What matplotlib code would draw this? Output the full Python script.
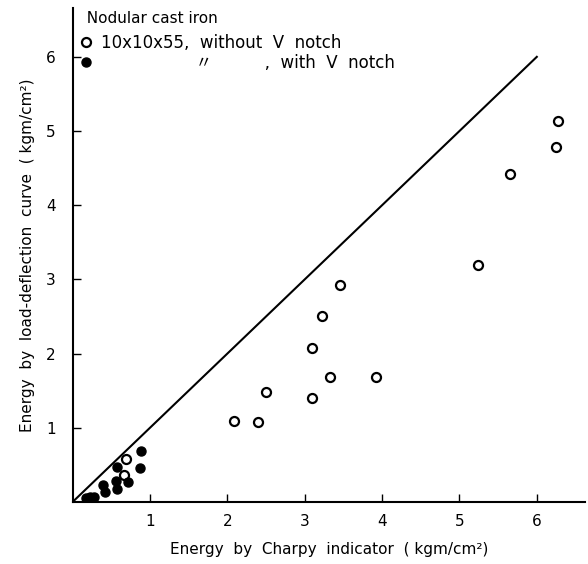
import numpy as np
import matplotlib.pyplot as plt

# nodular cast iron, energy (kgm/cm^2)
plain_charpy = [0.67, 0.69, 2.08, 2.40, 2.50, 3.10, 3.10, 3.22, 3.33, 3.45,
                3.92, 5.24, 5.65, 6.25, 6.27]
plain_load = [0.37, 0.58, 1.09, 1.08, 1.48, 1.40, 2.08, 2.51, 1.69, 2.93,
              1.68, 3.20, 4.42, 4.79, 5.14]

notch_charpy = [0.17, 0.22, 0.27, 0.39, 0.42, 0.56, 0.58, 0.58, 0.72, 0.87, 0.88]
notch_load = [0.05, 0.07, 0.07, 0.23, 0.14, 0.28, 0.18, 0.47, 0.27, 0.46, 0.69]

equal_line = [0, 6]
ticks = [1, 2, 3, 4, 5, 6]

fig = plt.figure(figsize=(5.88, 5.64), dpi=100)
ax = fig.add_axes([0.1235, 0.11, 0.871, 0.876])

ax.plot(equal_line, equal_line, color='black', linewidth=1.5)
ax.plot(plain_charpy, plain_load, 'o', mfc='white', mec='black',
        ms=6.5, mew=1.6, label='10x10x55,  without  V  notch')
ax.plot(notch_charpy, notch_load, 'o', mfc='black', mec='black',
        ms=6.5, mew=1.0, label='                  \u3003          ,  with  V  notch')

ax.set_xlim(0, 6.62)
ax.set_ylim(0, 6.66)
ax.set_xticks(ticks)
ax.set_yticks(ticks)
ax.tick_params(direction='in', length=6, width=1, labelsize=11)
ax.tick_params(axis='x', pad=9)
ax.tick_params(axis='y', pad=12)
for s in ['top', 'right']:
    ax.spines[s].set_visible(False)
for s in ['left', 'bottom']:
    ax.spines[s].set_linewidth(1.5)

ax.set_xlabel('Energy  by  Charpy  indicator  ( kgm/cm\u00b2)', fontsize=11, labelpad=9)
ax.set_ylabel('Energy  by  load-deflection  curve  ( kgm/cm\u00b2)', fontsize=11, labelpad=8)

leg = ax.legend(loc='upper left', bbox_to_anchor=(-0.02, 1.025), frameon=False,
                title='  Nodular cast iron', title_fontsize=11,
                handletextpad=0.4, handlelength=1.0, labelspacing=0.1,
                prop={'family': ['DejaVu Sans', 'Noto Sans CJK JP'], 'size': 12})
leg._legend_box.align = 'left'
leg._legend_box.sep = 6

fig.savefig('out.png', dpi=100)
